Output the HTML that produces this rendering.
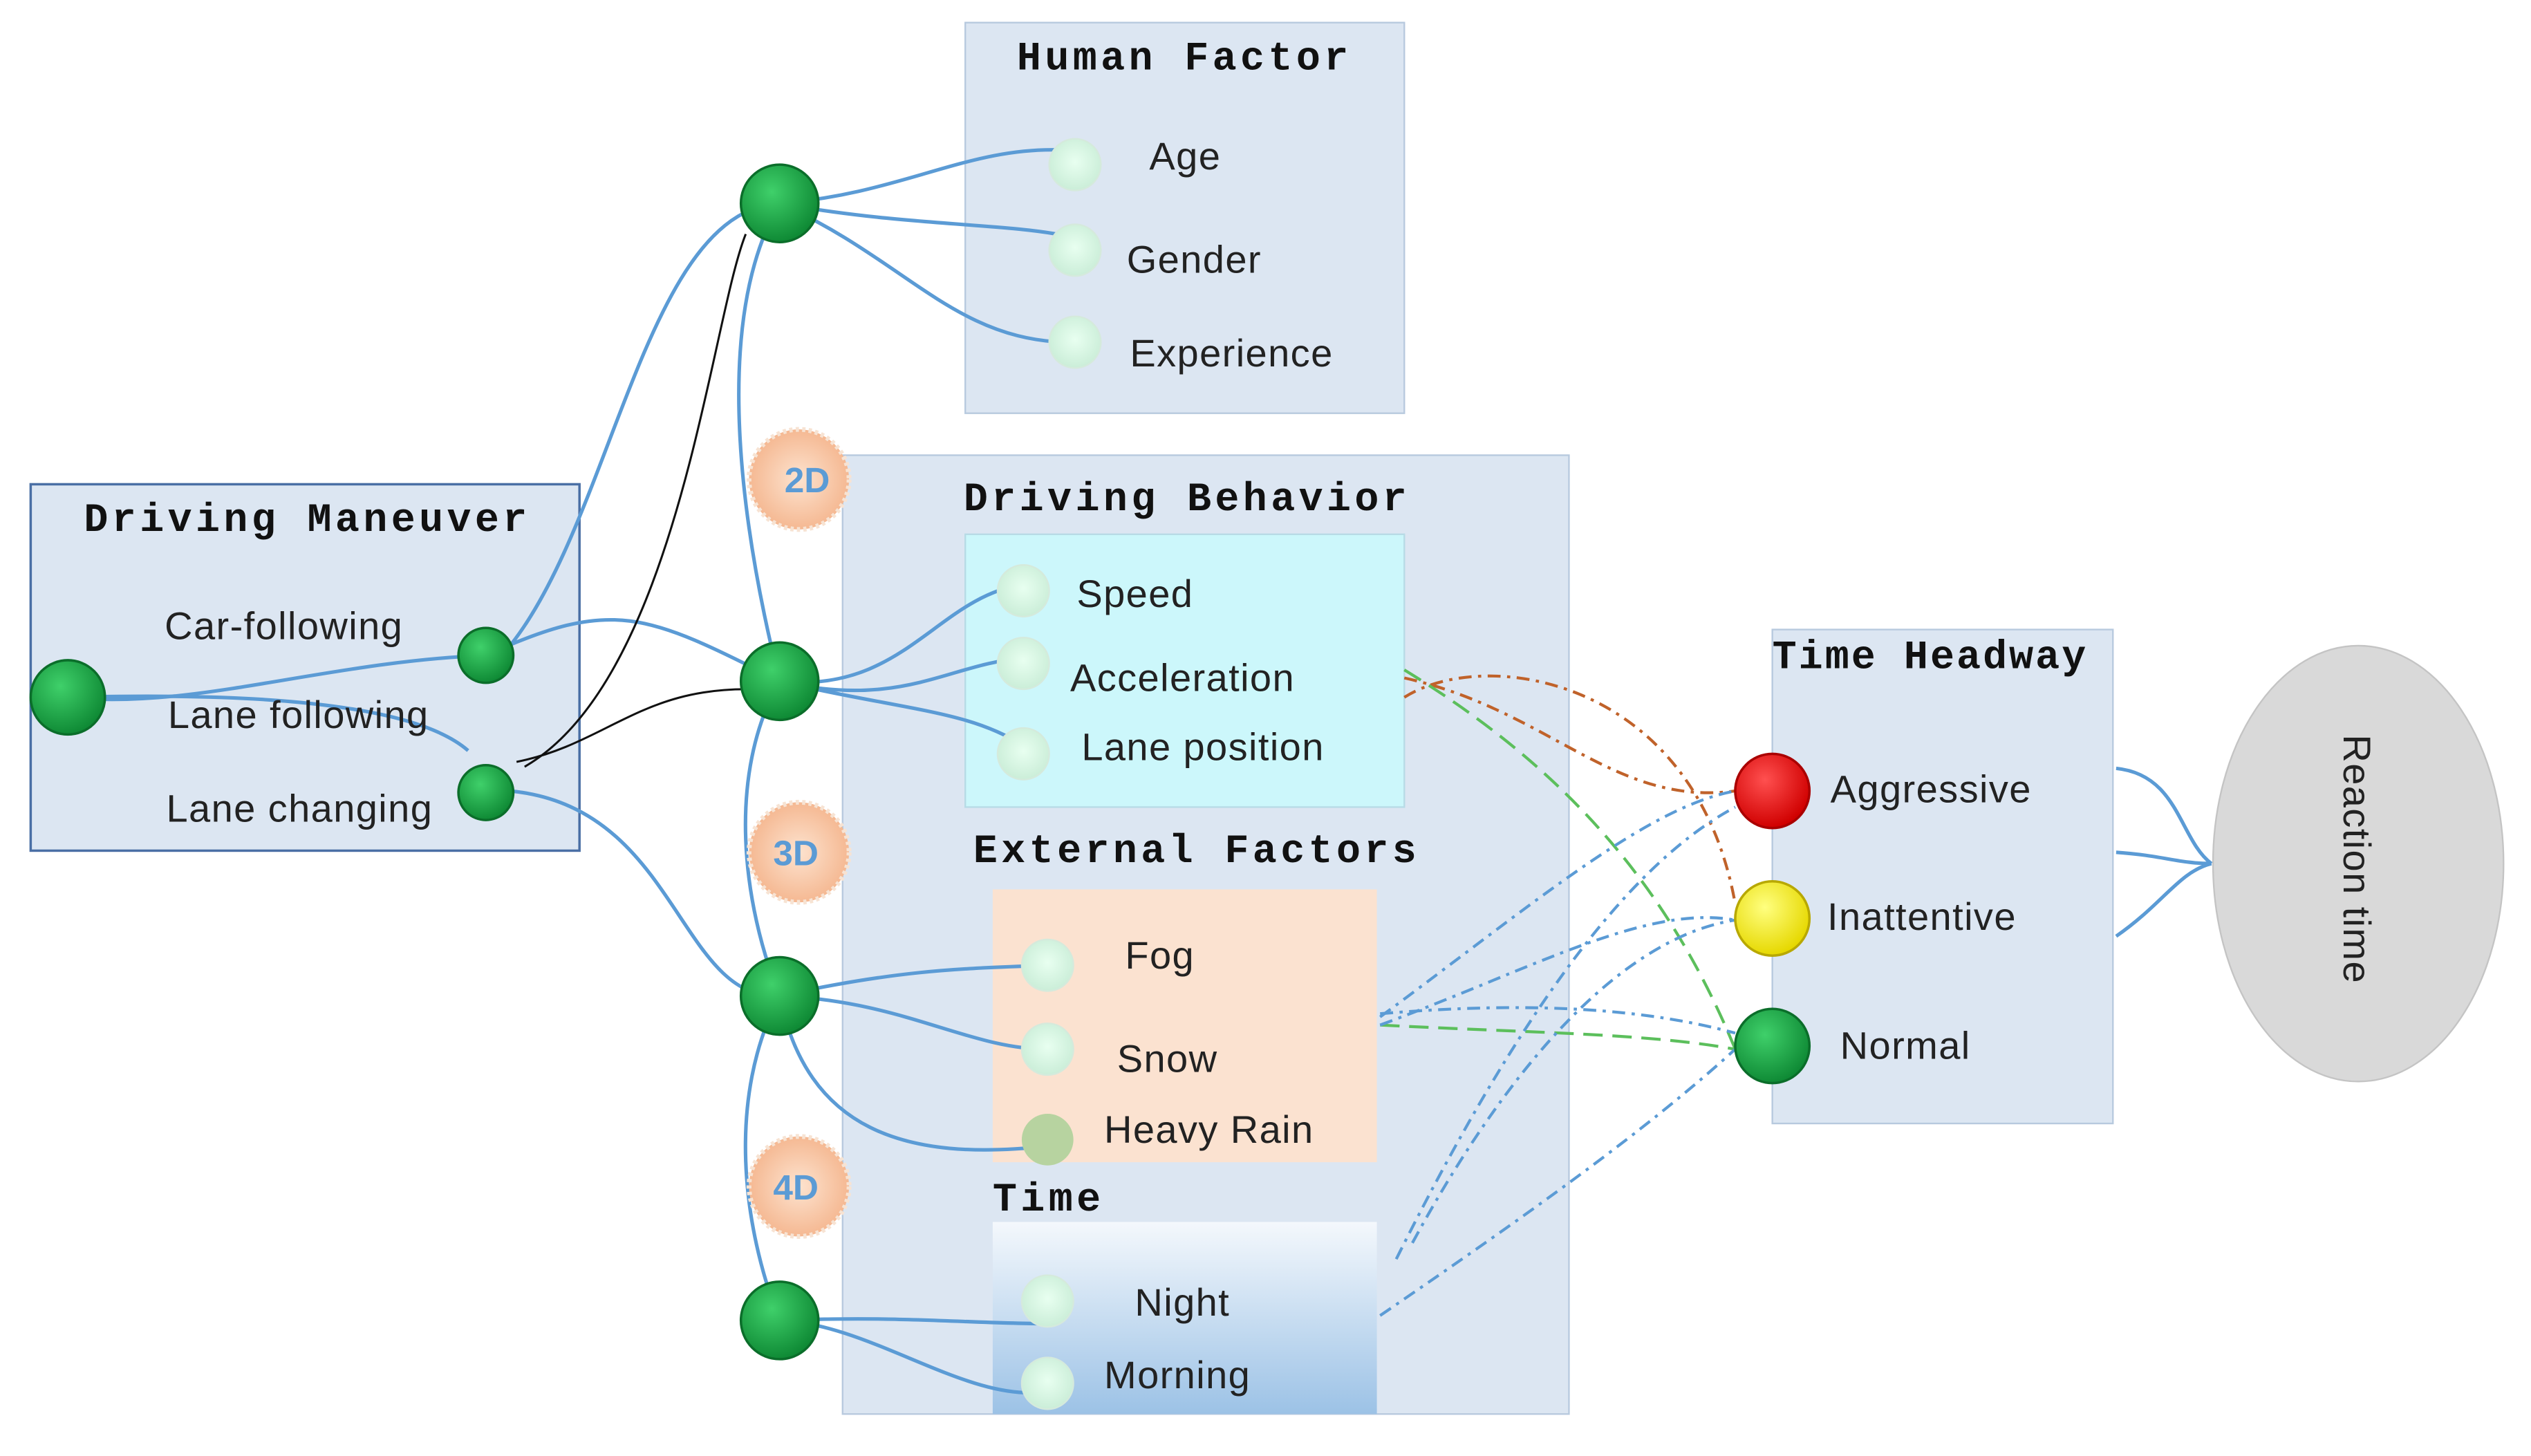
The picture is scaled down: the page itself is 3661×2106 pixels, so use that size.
<!DOCTYPE html>
<html><head><meta charset="utf-8"><style>
html,body{margin:0;padding:0;background:#fff;}
svg{display:block}
.t{font-family:"Liberation Mono",monospace;font-weight:bold;font-size:25px;fill:#111;letter-spacing:2.3px}
.s{font-family:"Liberation Sans",sans-serif;font-size:24px;fill:#222;letter-spacing:0.6px}
.l{fill:none;stroke:#5b9bd5;stroke-width:2.2}
</style></head><body>
<svg width="3661" height="2106" viewBox="0 0 1568 902" xmlns="http://www.w3.org/2000/svg">
<defs>
<radialGradient id="g" cx="40%" cy="35%" r="65%"><stop offset="0" stop-color="#3fd06a"/><stop offset="1" stop-color="#0f8a35"/></radialGradient>
<radialGradient id="r" cx="40%" cy="35%" r="65%"><stop offset="0" stop-color="#ff5050"/><stop offset="1" stop-color="#d00000"/></radialGradient>
<radialGradient id="y" cx="40%" cy="35%" r="65%"><stop offset="0" stop-color="#ffff80"/><stop offset="1" stop-color="#e6d800"/></radialGradient>
<radialGradient id="p" cx="50%" cy="45%" r="60%"><stop offset="0" stop-color="#e8fff0"/><stop offset="1" stop-color="#c8ecd6"/></radialGradient>
<radialGradient id="b" cx="50%" cy="50%" r="55%"><stop offset="0" stop-color="#fde3cf"/><stop offset="1" stop-color="#f4b48c"/></radialGradient>
<linearGradient id="tg" x1="0" y1="0" x2="0" y2="1"><stop offset="0" stop-color="#f4f8fc"/><stop offset="1" stop-color="#9cc2e6"/></linearGradient>
</defs>
<rect x="598" y="14" width="272" height="242" fill="#dce6f2" stroke="#b7c9de"/>
<rect x="522" y="282" width="450" height="594" fill="#dce6f2" stroke="#b7c9de"/>
<rect x="598" y="331" width="272" height="169" fill="#ccf7fb" stroke="#b7dbe6"/>
<rect x="615" y="551" width="238" height="169" fill="#fbe2d0"/>
<rect x="615" y="757" width="238" height="119" fill="url(#tg)"/>
<rect x="19" y="300" width="340" height="227" fill="#dce6f2" stroke="#4a6fa5" stroke-width="1.5"/>
<rect x="1098" y="390" width="211" height="306" fill="#dce6f2" stroke="#b7c9de"/>
<ellipse cx="1461" cy="535" rx="90" ry="135" fill="#d9d9d9" stroke="#c4c4c4"/>
<text class="s" transform="translate(1452,455) rotate(90)">Reaction time</text>
<text class="t" x="630" y="43">Human Factor</text>
<text class="t" x="597" y="316">Driving Behavior</text>
<text class="t" x="603" y="534">External Factors</text>
<text class="t" x="615" y="750">Time</text>
<text class="t" x="52" y="329">Driving Maneuver</text>
<text class="t" x="1098" y="414" style="letter-spacing:1.3px">Time Headway</text>
<g class="l">
<path d="M42,432 C120,440 200,410 301,406"/>
<path d="M42,432 C120,430 250,430 290,465"/>
<path d="M301,406 C380,370 400,380 483,422"/>
<path d="M316,400 C380,320 400,130 483,126"/>
<path d="M316,490 C420,500 420,620 483,617"/>
<path d="M483,126 C560,120 600,90 660,93"/>
<path d="M483,126 C560,140 620,138 660,146"/>
<path d="M483,126 C560,160 590,210 660,212"/>
<path d="M483,126 C440,200 460,330 483,422"/>
<path d="M483,422 C560,430 580,370 634,362"/>
<path d="M483,422 C560,440 590,410 634,408"/>
<path d="M483,422 C560,440 600,440 634,462"/>
<path d="M483,422 C450,480 460,560 483,617"/>
<path d="M483,617 C560,600 600,600 649,598"/>
<path d="M483,617 C560,620 600,650 649,650"/>
<path d="M483,617 C500,700 560,720 649,710"/>
<path d="M483,617 C450,680 460,760 483,818"/>
<path d="M483,818 C560,815 600,820 649,820"/>
<path d="M483,818 C540,820 600,870 649,862"/>
<path d="M1311,476 C1350,480 1350,520 1370,535"/>
<path d="M1311,528 C1340,530 1350,535 1370,535"/>
<path d="M1311,580 C1340,560 1350,540 1370,535"/>
</g>
<path d="M320,472 C380,460 400,420 483,428" fill="none" stroke="#111" stroke-width="1.3"/>
<path d="M325,475 C420,420 440,200 462,145" fill="none" stroke="#111" stroke-width="1.3"/>
<g fill="none" stroke-width="1.8">
<path d="M870,420 C960,440 1000,500 1075,490" stroke="#c0622a" stroke-dasharray="8,4,2,4"/>
<path d="M870,432 C920,400 1050,420 1075,560" stroke="#c0622a" stroke-dasharray="8,4,2,4"/>
<path d="M870,415 C960,470 1030,540 1075,650" stroke="#5cbf5c" stroke-dasharray="12,6"/>
<path d="M855,635 C950,640 1020,640 1075,650" stroke="#5cbf5c" stroke-dasharray="12,6"/>
<path d="M855,635 C950,600 1020,560 1075,570" stroke="#5b9bd5" stroke-dasharray="8,4,2,4"/>
<path d="M855,630 C950,560 1020,500 1075,490" stroke="#5b9bd5" stroke-dasharray="8,4,2,4"/>
<path d="M855,628 C950,620 1020,625 1075,640" stroke="#5b9bd5" stroke-dasharray="8,4,2,4"/>
<path d="M855,815 C950,750 1020,700 1075,650" stroke="#5b9bd5" stroke-dasharray="8,4,2,4"/>
<path d="M865,780 C930,650 1000,540 1075,500" stroke="#5b9bd5" stroke-dasharray="8,4,2,4"/>
<path d="M875,770 C940,650 1010,580 1075,570" stroke="#5b9bd5" stroke-dasharray="8,4,2,4"/>
</g>
<g font-family="Liberation Sans,sans-serif" font-size="22" font-weight="bold" fill="#5b9bd5">
<circle cx="495" cy="297" r="31" fill="url(#b)" stroke="#f7e3d3" stroke-width="3" stroke-dasharray="2,2"/><text x="486" y="305">2D</text>
<circle cx="495" cy="528" r="31" fill="url(#b)" stroke="#f7e3d3" stroke-width="3" stroke-dasharray="2,2"/><text x="479" y="536">3D</text>
<circle cx="495" cy="735" r="31" fill="url(#b)" stroke="#f7e3d3" stroke-width="3" stroke-dasharray="2,2"/><text x="479" y="743">4D</text>
</g>
<g fill="url(#p)" stroke="#d5eadc">
<circle cx="666" cy="102" r="16"/><circle cx="666" cy="155" r="16"/><circle cx="666" cy="212" r="16"/>
<circle cx="634" cy="366" r="16"/><circle cx="634" cy="411" r="16"/><circle cx="634" cy="467" r="16"/>
<circle cx="649" cy="598" r="16"/><circle cx="649" cy="650" r="16"/>
<circle cx="649" cy="806" r="16"/><circle cx="649" cy="857" r="16"/>
</g>
<circle cx="649" cy="706" r="16" fill="#b7d3a0"/>
<g fill="url(#g)" stroke="#0b6e2a" stroke-width="1.5">
<circle cx="42" cy="432" r="23"/><circle cx="301" cy="406" r="17"/><circle cx="301" cy="491" r="17"/>
<circle cx="483" cy="126" r="24"/><circle cx="483" cy="422" r="24"/><circle cx="483" cy="617" r="24"/><circle cx="483" cy="818" r="24"/>
<circle cx="1098" cy="648" r="23"/>
</g>
<circle cx="1098" cy="490" r="23" fill="url(#r)" stroke="#a00" stroke-width="1.5"/>
<circle cx="1098" cy="569" r="23" fill="url(#y)" stroke="#b8a800" stroke-width="1.5"/>
<g class="s">
<text x="712" y="105">Age</text><text x="698" y="169">Gender</text><text x="700" y="227">Experience</text>
<text x="667" y="376">Speed</text><text x="663" y="428">Acceleration</text><text x="670" y="471">Lane position</text>
<text x="697" y="600">Fog</text><text x="692" y="664">Snow</text><text x="684" y="708">Heavy Rain</text>
<text x="703" y="815">Night</text><text x="684" y="860">Morning</text>
<text x="102" y="396">Car-following</text><text x="104" y="451">Lane following</text><text x="103" y="509">Lane changing</text>
<text x="1134" y="497">Aggressive</text><text x="1132" y="576">Inattentive</text><text x="1140" y="656">Normal</text>
</g>
</svg>
</body></html>
